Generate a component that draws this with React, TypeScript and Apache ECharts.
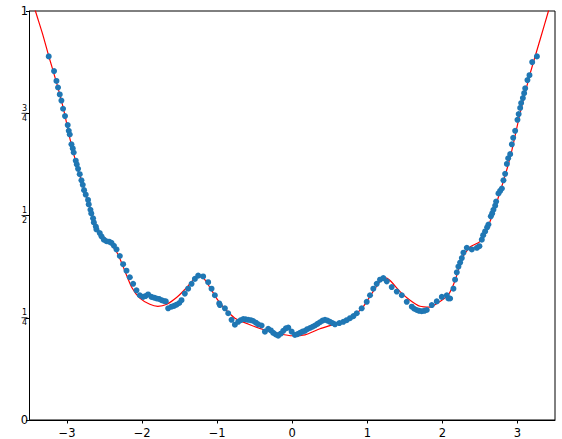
import React, { useEffect, useRef } from "react";
import * as echarts from "echarts";

// Noisy measured samples (blue scatter): [x, y]
const samples: number[][] = [
  [-3.244, 0.889], [-3.173, 0.853], [-3.141, 0.829], [-3.12, 0.813], [-3.097, 0.796],
  [-3.075, 0.781], [-3.053, 0.761], [-3.027, 0.743], [-2.991, 0.721], [-2.977, 0.707],
  [-2.964, 0.698], [-2.941, 0.674], [-2.924, 0.664], [-2.911, 0.654], [-2.884, 0.634],
  [-2.871, 0.625], [-2.853, 0.614], [-2.831, 0.601], [-2.808, 0.586], [-2.791, 0.575],
  [-2.773, 0.562], [-2.751, 0.551], [-2.72, 0.538], [-2.711, 0.527], [-2.688, 0.514],
  [-2.677, 0.505], [-2.653, 0.493], [-2.643, 0.483], [-2.617, 0.473],
  [-2.608, 0.466], [-2.564, 0.457], [-2.541, 0.449], [-2.51, 0.441], [-2.475, 0.437],
  [-2.44, 0.436], [-2.408, 0.433], [-2.375, 0.426],
  [-2.341, 0.417], [-2.297, 0.401], [-2.253, 0.381], [-2.208, 0.365], [-2.164, 0.349],
  [-2.12, 0.333], [-2.075, 0.317], [-2.031, 0.305], [-1.987, 0.301], [-1.955, 0.303],
  [-1.92, 0.307], [-1.875, 0.301], [-1.84, 0.299], [-1.808, 0.297], [-1.775, 0.296],
  [-1.741, 0.293], [-1.71, 0.291], [-1.684, 0.29], [-1.653, 0.273],
  [-1.608, 0.277], [-1.575, 0.279], [-1.541, 0.282], [-1.505, 0.286], [-1.475, 0.293],
  [-1.431, 0.309], [-1.387, 0.321],
  [-1.341, 0.333], [-1.297, 0.345], [-1.253, 0.353], [-1.187, 0.351], [-1.12, 0.337],
  [-1.075, 0.321], [-1.031, 0.305], [-0.973, 0.285], [-0.964, 0.281], [-0.897, 0.273],
  [-0.853, 0.261], [-0.808, 0.245], [-0.764, 0.233], [-0.72, 0.24], [-0.685, 0.244],
  [-0.653, 0.247], [-0.62, 0.246], [-0.587, 0.245], [-0.553, 0.244], [-0.52, 0.242],
  [-0.485, 0.238], [-0.453, 0.234], [-0.408, 0.231], [-0.364, 0.216],
  [-0.32, 0.223], [-0.285, 0.219], [-0.253, 0.213], [-0.22, 0.209], [-0.187, 0.206],
  [-0.153, 0.211], [-0.12, 0.218], [-0.085, 0.224], [-0.053, 0.226],
  [-0.008, 0.216], [0.036, 0.208], [0.07, 0.21], [0.103, 0.213], [0.136, 0.216],
  [0.169, 0.218], [0.2, 0.222], [0.236, 0.225], [0.27, 0.228],
  [0.303, 0.231], [0.336, 0.235], [0.369, 0.239], [0.403, 0.243], [0.436, 0.245],
  [0.47, 0.243], [0.503, 0.24], [0.536, 0.237], [0.569, 0.234],
  [0.627, 0.237], [0.68, 0.24], [0.725, 0.244], [0.769, 0.249], [0.815, 0.254],
  [0.859, 0.261], [0.925, 0.273],
  [0.992, 0.289], [1.036, 0.305], [1.08, 0.321], [1.125, 0.333], [1.169, 0.343],
  [1.213, 0.347], [1.259, 0.339], [1.325, 0.325], [1.392, 0.314], [1.459, 0.305],
  [1.525, 0.289], [1.592, 0.277], [1.625, 0.272], [1.659, 0.269], [1.69, 0.267],
  [1.725, 0.266], [1.76, 0.267], [1.792, 0.269],
  [1.859, 0.281], [1.925, 0.29], [1.992, 0.301], [2.059, 0.305], [2.08, 0.297],
  [2.103, 0.297], [2.147, 0.321], [2.169, 0.343], [2.192, 0.361], [2.213, 0.375],
  [2.236, 0.385], [2.259, 0.396], [2.28, 0.409],
  [2.325, 0.421], [2.392, 0.417], [2.459, 0.421], [2.493, 0.425], [2.525, 0.441],
  [2.543, 0.452], [2.569, 0.461], [2.596, 0.471], [2.613, 0.478], [2.645, 0.498],
  [2.663, 0.505], [2.68, 0.514], [2.703, 0.524], [2.716, 0.534],
  [2.747, 0.554], [2.769, 0.56], [2.792, 0.566], [2.813, 0.586], [2.836, 0.602],
  [2.859, 0.626], [2.876, 0.64], [2.903, 0.65], [2.925, 0.674], [2.943, 0.69],
  [2.969, 0.707], [3.0, 0.734], [3.016, 0.748], [3.036, 0.763], [3.049, 0.775],
  [3.072, 0.787], [3.089, 0.799], [3.103, 0.811], [3.133, 0.831], [3.16, 0.843],
  [3.196, 0.875], [3.259, 0.889],
];

// Fitted curve (red line): [x, y]
const fitCurve: number[][] = [
  [-3.5, 1.05], [-3.421, 1.0], [-3.324, 0.943], [-3.244, 0.89], [-3.137, 0.823],
  [-3.044, 0.758], [-2.964, 0.69], [-2.871, 0.623], [-2.764, 0.559], [-2.657, 0.499],
  [-2.564, 0.458], [-2.431, 0.433], [-2.324, 0.406], [-2.231, 0.365], [-2.137, 0.324],
  [-2.031, 0.298], [-1.897, 0.283], [-1.791, 0.278], [-1.671, 0.283], [-1.537, 0.3],
  [-1.431, 0.319], [-1.324, 0.341], [-1.244, 0.351], [-1.177, 0.346], [-1.097, 0.324],
  [-0.991, 0.293], [-0.897, 0.272], [-0.764, 0.249], [-0.564, 0.233], [-0.364, 0.22],
  [-0.164, 0.211], [-0.004, 0.206], [0.169, 0.208], [0.369, 0.223], [0.569, 0.235],
  [0.769, 0.249], [0.929, 0.273], [1.063, 0.31], [1.169, 0.339], [1.236, 0.348],
  [1.303, 0.341], [1.436, 0.314], [1.569, 0.293], [1.703, 0.278], [1.836, 0.276],
  [1.969, 0.29], [2.076, 0.305], [2.169, 0.341], [2.263, 0.396], [2.369, 0.423],
  [2.503, 0.437], [2.636, 0.486], [2.769, 0.558], [2.903, 0.642], [3.036, 0.751],
  [3.169, 0.847], [3.303, 0.931], [3.413, 1.0], [3.5, 1.055],
];

const xTicks: number[] = [-3, -2, -1, 0, 1, 2, 3];

const yFractions: Record<string, [string, string]> = {
  "0.25": ["1", "4"],
  "0.5": ["1", "2"],
  "0.75": ["3", "4"],
};

export default function App() {
  const ref = useRef<HTMLDivElement>(null);
  useEffect(() => {
    if (!ref.current) return;
    const chart = echarts.init(ref.current, null, { renderer: "svg" });
    const font = "DejaVu Sans";
    chart.setOption({
      animation: false,
      backgroundColor: "#fff",
      grid: {
        left: 29.5,
        right: 7,
        top: 11,
        bottom: 12.5,
        show: true,
        borderColor: "#000",
        borderWidth: 1,
        backgroundColor: "transparent",
      },
      xAxis: {
        type: "value",
        min: -3.5,
        max: 3.5,
        splitLine: { show: false },
        axisLine: { show: true, onZero: false, lineStyle: { color: "#000" } },
        axisTick: {
          show: true,
          length: 3.5,
          customValues: xTicks,
          lineStyle: { color: "#000" },
        },
        axisLabel: {
          color: "#000",
          fontFamily: font,
          fontSize: 11.5,
          margin: 7,
          customValues: xTicks,
          formatter: (v: number) => (v < 0 ? "\u2212" + Math.abs(v) : String(v)),
        },
      },
      yAxis: {
        type: "value",
        min: 0,
        max: 1,
        interval: 0.25,
        splitLine: { show: false },
        axisLine: { show: true, onZero: false, lineStyle: { color: "#000" } },
        axisTick: { show: true, length: 3.5, lineStyle: { color: "#000" } },
        axisLabel: {
          color: "#000",
          fontFamily: font,
          fontSize: 11.5,
          margin: 5,
          align: "center",
          formatter: (v: number) => {
            const f = yFractions[String(v)];
            if (!f) return String(v);
            return `{n|${f[0]}}\n{bar|}\n{d|${f[1]}}`;
          },
          rich: {
            n: { fontFamily: font, fontSize: 8, lineHeight: 8, color: "#000", align: "center" },
            bar: { width: 6, height: 0.8, lineHeight: 2, backgroundColor: "#000", align: "center" },
            d: { fontFamily: font, fontSize: 8, lineHeight: 8, color: "#000", align: "center" },
          },
        },
      },
      series: [
        {
          type: "line",
          data: fitCurve,
          showSymbol: false,
          symbol: "none",
          smooth: 0.2,
          clip: true,
          lineStyle: { color: "#ff0000", width: 1.2 },
          z: 2,
        },
        {
          type: "scatter",
          data: samples,
          symbolSize: 6,
          itemStyle: { color: "#1f77b4", opacity: 1 },
          z: 3,
        },
      ],
    });
    return () => chart.dispose();
  }, []);
  return (
    <div
      ref={ref}
      style={{ position: "fixed", left: 0, top: 0, width: 562, height: 439 }}
    />
  );
}
